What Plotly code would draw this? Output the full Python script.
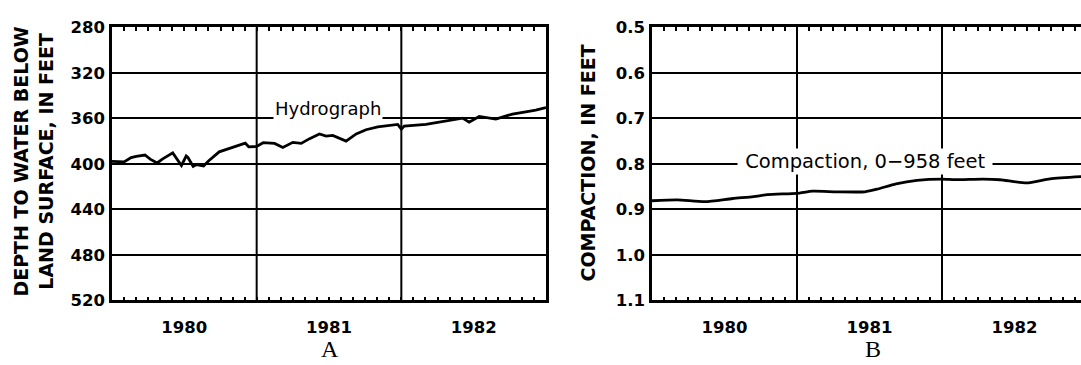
import plotly.graph_objects as go

# Well hydrograph: depth to water below land surface (feet), decimal years
hydro_year = [1980.0, 1980.084, 1980.132, 1980.168, 1980.228, 1980.264, 1980.312,
              1980.348, 1980.42, 1980.444, 1980.48, 1980.513, 1980.525, 1980.561,
              1980.585, 1980.633, 1980.669, 1980.741, 1980.837, 1980.921, 1980.945,
              1981.0, 1981.045, 1981.124, 1981.181, 1981.25, 1981.308, 1981.366,
              1981.434, 1981.48, 1981.526, 1981.572, 1981.618, 1981.688, 1981.756,
              1981.837, 1981.917, 1981.975, 1982.0, 1982.02, 1982.17, 1982.308,
              1982.423, 1982.469, 1982.538, 1982.653, 1982.768, 1982.86, 1982.929,
              1983.0]
hydro_depth = [397.8, 398.3, 394.4, 393.3, 392.2, 395.8, 399.2,
               395.8, 390.3, 394.4, 401.4, 393.1, 394.4, 402.2,
               400.6, 401.9, 397.2, 389.4, 385.3, 381.7, 385.0,
               384.7, 381.4, 382.0, 385.6, 381.1, 382.0, 377.8,
               373.7, 375.6, 375.0, 377.2, 380.0, 373.7, 370.0,
               367.5, 366.1, 365.3, 369.5, 366.7, 365.3, 362.5,
               359.8, 363.3, 358.3, 360.6, 356.2, 354.2, 352.8,
               350.6]

# Extensometer record: compaction of the 0-958 ft interval (feet)
comp_year = [1980.0, 1980.175, 1980.365, 1980.556, 1980.7, 1980.796, 1981.0,
             1981.108, 1981.276, 1981.468, 1981.552, 1981.683, 1981.827, 1982.0,
             1982.09, 1982.283, 1982.4, 1982.584, 1982.745, 1982.96]
comp_feet = [0.881, 0.879, 0.883, 0.876, 0.872, 0.8675, 0.8646,
             0.860, 0.8613, 0.8613, 0.8556, 0.8438, 0.836, 0.8333,
             0.8347, 0.8333, 0.8348, 0.8417, 0.8327, 0.828]

depth_ticks = [280, 320, 360, 400, 440, 480, 520]
comp_ticks = [0.5, 0.6, 0.7, 0.8, 0.9, 1.0, 1.1]
years = [1980, 1981, 1982]
year_bounds = [1981, 1982]

W, H = 1081, 365
FONT = "DejaVu Sans"
TICKFONT = dict(family=FONT, size=16.5, color="black", weight="bold")


def px(x):
    return x / W


def py(y):
    return 1 - y / H


# Monthly tick marks, with the year label on the mid-year tick
month_vals = [years[0] + k / 12 for k in range(0, 12 * len(years) + 1)]
month_text = [""] * len(month_vals)
for i, yr in enumerate(years):
    month_text[12 * i + 6] = str(yr)

fig = go.Figure()
fig.add_trace(go.Scatter(x=hydro_year, y=hydro_depth, mode="lines",
                         line=dict(color="black", width=2.8),
                         xaxis="x", yaxis="y", showlegend=False))
fig.add_trace(go.Scatter(x=comp_year, y=comp_feet, mode="lines",
                         line=dict(color="black", width=2.8, shape="spline", smoothing=0.6),
                         xaxis="x2", yaxis="y2", showlegend=False))

y_dom = [py(307.5), py(19.3)]
xaxis_common = dict(
    tickmode="array", tickvals=month_vals, ticktext=month_text,
    ticks="inside", ticklen=4, tickwidth=2, tickcolor="black",
    showline=True, linewidth=2.5, linecolor="black", mirror="ticks",
    showgrid=False, zeroline=False, ticklabelstandoff=10,
    tickfont=TICKFONT,
)
yaxis_common = dict(
    ticks="", showline=True, linewidth=2.5, linecolor="black",
    showgrid=True, gridcolor="black", gridwidth=2, zeroline=False,
    ticklabelstandoff=1, tickfont=TICKFONT,
    domain=y_dom,
)

fig.update_layout(
    width=W, height=H, margin=dict(l=0, r=0, t=0, b=0),
    paper_bgcolor="white", plot_bgcolor="white",
    xaxis=dict(domain=[px(112), px(546)], range=[1980, 1983], anchor="y", **xaxis_common),
    yaxis=dict(range=[520, 280], tickvals=depth_ticks, mirror=True, anchor="x", **yaxis_common),
    xaxis2=dict(domain=[px(652), 1], range=[1980, 1980 + (W - 652) / 145], anchor="y2",
                **xaxis_common),
    yaxis2=dict(range=[1.1, 0.5], tickvals=comp_ticks, tickformat=".1f", mirror=False,
                anchor="x2", **yaxis_common),
)

# Year-boundary grid lines
shapes = []
for xr, yr_ref in (("x", "y domain"), ("x2", "y2 domain")):
    for yb in year_bounds:
        shapes.append(dict(type="line", xref=xr, yref=yr_ref,
                           x0=yb, x1=yb, y0=0, y1=1, layer="below",
                           line=dict(color="black", width=2)))
fig.update_layout(shapes=shapes)

TITLEFONT = dict(family=FONT, size=19, color="black", weight="bold")
annotations = [
    dict(text="DEPTH TO WATER BELOW<br>LAND SURFACE, IN FEET", textangle=-90,
         xref="paper", yref="paper", x=px(34), y=py(161), showarrow=False,
         font=TITLEFONT, xanchor="center", yanchor="middle"),
    dict(text="COMPACTION, IN FEET", textangle=-90,
         xref="paper", yref="paper", x=px(588), y=py(163), showarrow=False,
         font=TITLEFONT, xanchor="center", yanchor="middle"),
    dict(text="Hydrograph", xref="x", yref="y", x=1981.49, y=360, yshift=10,
         xanchor="center", yanchor="middle",
         showarrow=False, bgcolor="white", borderpad=1,
         font=dict(family=FONT, size=18, color="black")),
    dict(text=" Compaction, 0\u2212958 feet ", xref="x2", yref="y2", x=1981.466, y=0.8,
         yshift=2, xanchor="center", yanchor="middle",
         showarrow=False, bgcolor="white", borderpad=1,
         font=dict(family=FONT, size=19.5, color="black")),
    dict(text="A", xref="paper", yref="paper", x=px(330), y=py(359), showarrow=False,
         xanchor="center", yanchor="middle",
         font=dict(family="Liberation Serif", size=24, color="black")),
    dict(text="B", xref="paper", yref="paper", x=px(873), y=py(359), showarrow=False,
         xanchor="center", yanchor="middle",
         font=dict(family="Liberation Serif", size=24, color="black")),
]
fig.update_layout(annotations=annotations)

fig.write_html("out.html")
